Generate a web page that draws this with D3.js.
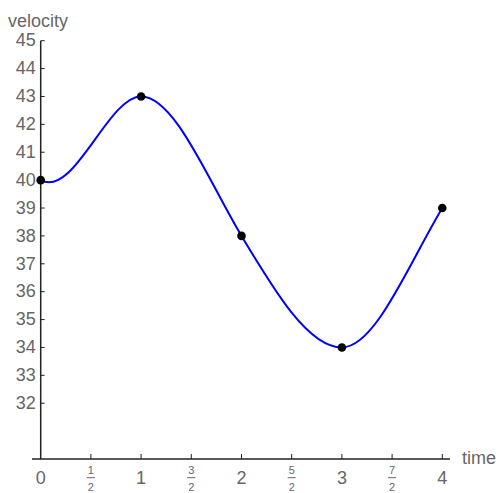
<!DOCTYPE html>
<html><head><meta charset="utf-8">
<script src="https://cdn.jsdelivr.net/npm/d3@7"></script>
<style>body{margin:0;background:#fff}svg{display:block}text{font-family:"Liberation Sans",Arial,sans-serif}</style>
</head><body>
<script>
const times = [0, 1, 2, 3, 4];
const velocity = [40, 43, 38, 34, 39];
const slopes = [-2, 0, -6, 0, 6];
const yTicks = [32,33,34,35,36,37,38,39,40,41,42,43,44,45];
const xTicks = [0, 0.5, 1, 1.5, 2, 2.5, 3, 3.5, 4];
const xTickLabels = ["0", "1/2", "1", "3/2", "2", "5/2", "3", "7/2", "4"];
const xTitle = "time", yTitle = "velocity";

const W = 499, H = 493;
const svg = d3.select("body").append("svg").attr("width", W).attr("height", H);
const x = d3.scaleLinear().domain([0, 4]).range([40.7, 442.3]);
const y = d3.scaleLinear().domain([30, 45]).range([459, 40.7]);
const grey = "#666";

// axes lines
svg.append("line").attr("x1", 32).attr("x2", 450).attr("y1", y(30)).attr("y2", y(30))
  .attr("stroke", "#222").attr("stroke-width", 1.5);
svg.append("line").attr("x1", x(0)).attr("x2", x(0)).attr("y1", y(30)).attr("y2", y(45))
  .attr("stroke", "#222").attr("stroke-width", 1.5);

// y ticks
yTicks.forEach(v => {
  svg.append("line").attr("x1", x(0)).attr("x2", x(0) + 4).attr("y1", y(v)).attr("y2", y(v))
    .attr("stroke", "#222").attr("stroke-width", 1);
  svg.append("text").attr("x", x(0) - 5).attr("y", y(v)).attr("dy", "0.32em")
    .attr("text-anchor", "end").attr("font-size", 18).attr("fill", grey).text(v);
});
// x ticks
xTicks.forEach((v, i) => {
  if (v > 0) svg.append("line").attr("x1", x(v)).attr("x2", x(v)).attr("y1", y(30)).attr("y2", y(30) - 5)
    .attr("stroke", "#222").attr("stroke-width", 1);
  const lab = xTickLabels[i];
  if (lab.includes("/")) {
    const [n, d] = lab.split("/");
    const g = svg.append("g");
    g.append("text").attr("x", x(v)).attr("y", 474).attr("text-anchor", "middle")
      .attr("font-size", 11).attr("fill", grey).text(n);
    g.append("line").attr("x1", x(v) - 4).attr("x2", x(v) + 4).attr("y1", 477.7).attr("y2", 477.7)
      .attr("stroke", grey).attr("stroke-width", 1);
    g.append("text").attr("x", x(v)).attr("y", 491).attr("text-anchor", "middle")
      .attr("font-size", 11).attr("fill", grey).text(d);
  } else {
    svg.append("text").attr("x", x(v)).attr("y", 483.5).attr("text-anchor", "middle")
      .attr("font-size", 18).attr("fill", grey).text(lab);
  }
});

svg.append("text").attr("x", 8).attr("y", 26.5).attr("font-size", 18).attr("fill", grey).text(yTitle);
svg.append("text").attr("x", 462).attr("y", 464).attr("font-size", 18).attr("fill", grey).text(xTitle);

// Hermite curve
const p = d3.path();
p.moveTo(x(times[0]), y(velocity[0]));
for (let i = 0; i < times.length - 1; i++) {
  const h = times[i + 1] - times[i];
  p.bezierCurveTo(
    x(times[i] + h / 3), y(velocity[i] + slopes[i] * h / 3),
    x(times[i + 1] - h / 3), y(velocity[i + 1] - slopes[i + 1] * h / 3),
    x(times[i + 1]), y(velocity[i + 1]));
}
svg.append("path").attr("d", p.toString()).attr("fill", "none").attr("stroke", "#0000ff").attr("stroke-width", 2);

svg.selectAll("circle.pt").data(times).enter().append("circle")
  .attr("cx", d => x(d)).attr("cy", (d, i) => y(velocity[i])).attr("r", 4.3).attr("fill", "#000");
</script>
</body></html>
